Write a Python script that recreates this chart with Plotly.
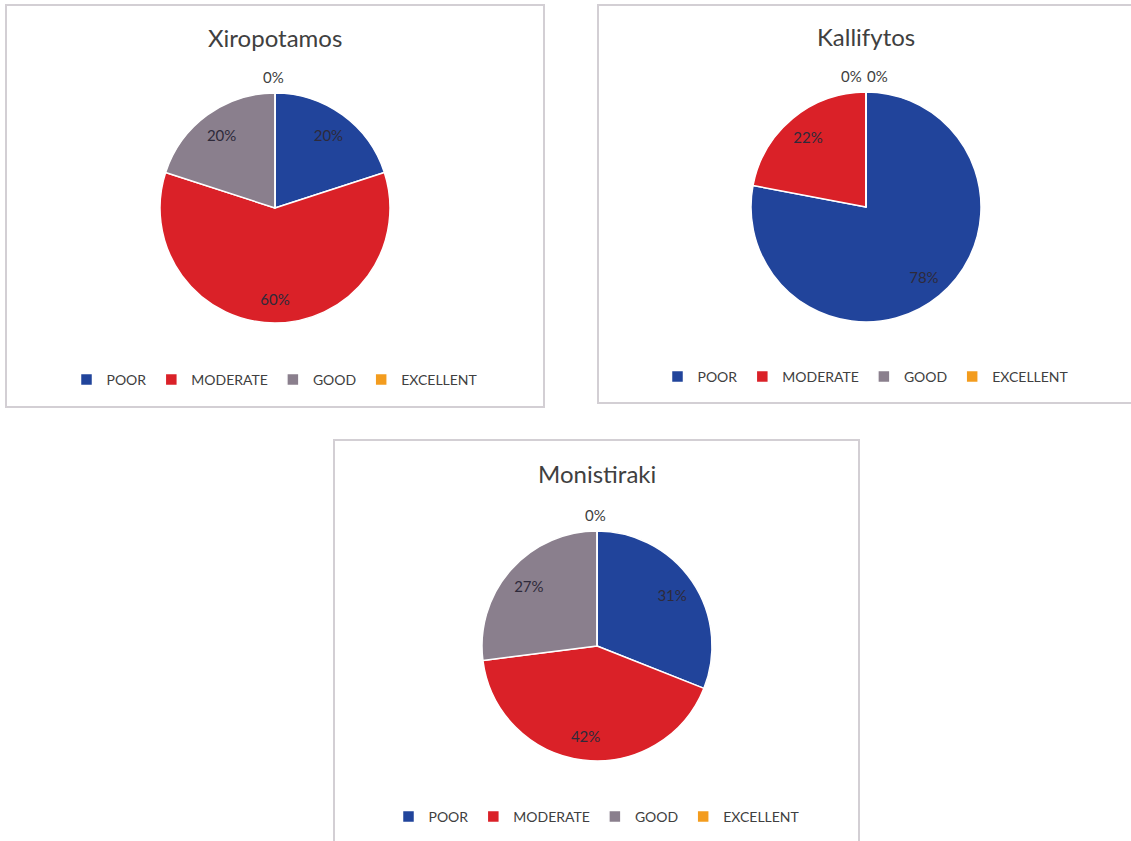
import plotly.graph_objects as go

W, H = 1131, 841

categories = ["POOR", "MODERATE", "GOOD", "EXCELLENT"]
colors = ["#21449b", "#da2128", "#8a7f8d", "#f39c1e"]

sites = ["Xiropotamos", "Kallifytos", "Monistiraki"]
xiropotamos = [20, 60, 20, 0]
kallifytos = [78, 22, 0, 0]
monistiraki = [31, 42, 27, 0]
values = [xiropotamos, kallifytos, monistiraki]

# layout in pixels: box (x0, y0, x1, y1), pie centre, radius, title y, legend y
boxes = [(6, 5, 544, 407), (598, 5, 1140, 403), (334, 440, 859, 850)]
centres = [(275, 208), (866, 207), (597, 646)]
radius = 115
title_y = [38, 37, 474]
legend_y = [380, 377, 817]

TXT = "#404040"
FONT = "Lato, 'Open Sans', sans-serif"


def px(x):
    return x / W


def py(y):
    return 1 - y / H


fig = go.Figure()
legend_names = ["legend", "legend2", "legend3"]

for i, vals in enumerate(values):
    cx, cy = centres[i]
    dom = dict(x=[px(cx - radius), px(cx + radius)],
               y=[py(cy + radius), py(cy - radius)])
    # full pie (colours + legend)
    fig.add_trace(go.Pie(
        labels=categories,
        values=vals,
        sort=False,
        direction="clockwise",
        rotation=0,
        marker=dict(colors=colors, line=dict(color="white", width=1.5)),
        textinfo="none",
        domain=dom,
        legend=legend_names[i],
        legendgroup="site%d" % i,
        showlegend=True,
        hoverinfo="label+percent",
    ))
    # invisible ring on top, only to push the percentage labels outward like Excel
    fig.add_trace(go.Pie(
        labels=categories,
        values=vals,
        sort=False,
        direction="clockwise",
        rotation=0,
        hole=0.58,
        marker=dict(colors=["rgba(0,0,0,0)"] * len(vals), line=dict(width=0)),
        texttemplate="%{percent:.0%}",
        textposition=["none" if v == 0 else "inside" for v in vals],
        insidetextorientation="horizontal",
        insidetextfont=dict(family=FONT, size=15, color="#2e2a3a"),
        domain=dom,
        legend=legend_names[i],
        legendgroup="site%d" % i,
        showlegend=False,
        hoverinfo="skip",
    ))

shapes = []
annotations = []
for i, (x0, y0, x1, y1) in enumerate(boxes):
    cx, cy = centres[i]
    shapes.append(dict(type="rect", xref="paper", yref="paper",
                       x0=px(x0), x1=px(x1), y0=py(y1), y1=py(y0),
                       line=dict(color="#d3cfd4", width=2),
                       fillcolor="rgba(0,0,0,0)", layer="below"))
    annotations.append(dict(text=sites[i], xref="paper", yref="paper",
                            x=px(cx), y=py(title_y[i]),
                            xanchor="center", yanchor="middle", showarrow=False,
                            font=dict(family=FONT, size=24, color=TXT)))
    # zero-value slices sit at 12 o'clock: Excel puts their labels side by side above the pie
    zeros = [v for v in values[i] if v == 0]
    n = len(zeros)
    for k, v in enumerate(zeros):
        off = (k - (n - 1) / 2) * 26 - 2
        annotations.append(dict(text="%d%%" % v, xref="paper", yref="paper",
                                x=px(cx + off), y=py(cy - radius - 16),
                                xanchor="center", yanchor="middle", showarrow=False,
                                font=dict(family=FONT, size=15, color=TXT)))

legend_style = dict(orientation="h", xanchor="center", yanchor="middle",
                    bgcolor="rgba(0,0,0,0)",
                    font=dict(family=FONT, size=14, color=TXT),
                    itemwidth=30, traceorder="normal")

layout_legends = {}
for i, name in enumerate(legend_names):
    d = dict(legend_style)
    d["x"] = px(centres[i][0])
    d["y"] = py(legend_y[i])
    layout_legends[name] = d

fig.update_layout(
    width=W, height=H,
    margin=dict(l=0, r=0, t=0, b=0),
    paper_bgcolor="white",
    plot_bgcolor="white",
    shapes=shapes,
    annotations=annotations,
    **layout_legends,
)

fig.write_html("out.html", config={"displayModeBar": False},
               post_script="document.body.style.margin='0';")
